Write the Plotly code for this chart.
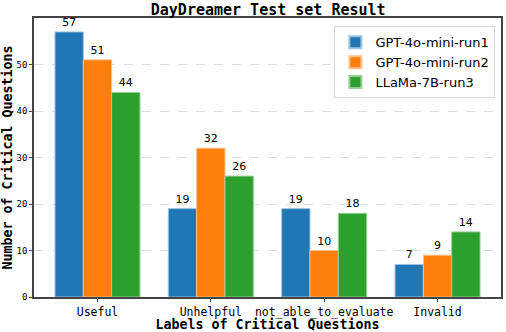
import plotly.graph_objects as go

categories = ["Useful", "Unhelpful", "not_able_to_evaluate", "Invalid"]
series_names = ["GPT-4o-mini-run1", "GPT-4o-mini-run2", "LLaMa-7B-run3"]
run1 = [57, 19, 19, 7]
run2 = [51, 32, 10, 9]
run3 = [44, 26, 18, 14]
colors = ["#1f77b4", "#ff7f0e", "#2ca02c"]
edge_colors = ["#9ec3e0", "#ffc08a", "#96d096"]
y_ticks = [0, 10, 20, 30, 40, 50]

mono = "DejaVu Sans Mono"
sans = "DejaVu Sans"

fig = go.Figure()
width = 0.25
offsets = [-width, 0, width]
for name, vals, col, ec, off in zip(series_names, [run1, run2, run3], colors, edge_colors, offsets):
    fig.add_trace(go.Bar(
        x=[i + off for i in range(len(categories))],
        y=vals,
        width=width,
        name=name,
        marker=dict(color=col, line=dict(color=ec, width=1)),
        text=[str(v) for v in vals],
        textposition="outside",
        textfont=dict(family=sans, size=11, color="black"),
        cliponaxis=False,
    ))

fig.update_layout(
    width=506, height=332,
    margin=dict(l=34, r=3, t=18, b=34),
    paper_bgcolor="white", plot_bgcolor="white",
    barmode="overlay",
    title=dict(text="<b>DayDreamer Test set Result</b>", x=0.53, xanchor="center",
               y=1 - 10 / 332, yanchor="middle", font=dict(family=mono, size=15, color="black")),
    showlegend=True,
    legend=dict(x=0.988, xanchor="right", y=0.97, yanchor="top",
                bgcolor="white", bordercolor="#d5d5d5", borderwidth=1,
                font=dict(family=sans, size=13, color="black"),
                itemsizing="constant", tracegroupgap=2),
    xaxis=dict(
        range=[-0.56, 3.56],
        tickmode="array", tickvals=list(range(len(categories))), ticktext=categories,
        tickfont=dict(family=mono, size=11.5, color="black"),
        showgrid=False, zeroline=False,
        showline=True, linecolor="#444", linewidth=1.5, mirror=True,
        ticks="outside", ticklen=3, tickcolor="#444",
        title=dict(text="<b>Labels of Critical Questions</b>", font=dict(family=mono, size=13.3, color="black"), standoff=1),
    ),
    yaxis=dict(
        range=[0, 60],
        tickmode="array", tickvals=y_ticks,
        tickfont=dict(family=mono, size=9, color="black"),
        showgrid=True, gridcolor="#dcdcdc", griddash="dash", gridwidth=1,
        zeroline=False,
        showline=True, linecolor="#444", linewidth=1.5, mirror=True,
        ticks="outside", ticklen=3, tickcolor="#444",
        title=dict(text="<b>Number of Critical Questions</b>", font=dict(family=mono, size=13.3, color="black"), standoff=3),
    ),
)

fig.write_html("out.html", config={"displayModeBar": False},
               post_script="document.body.style.margin='0';")
